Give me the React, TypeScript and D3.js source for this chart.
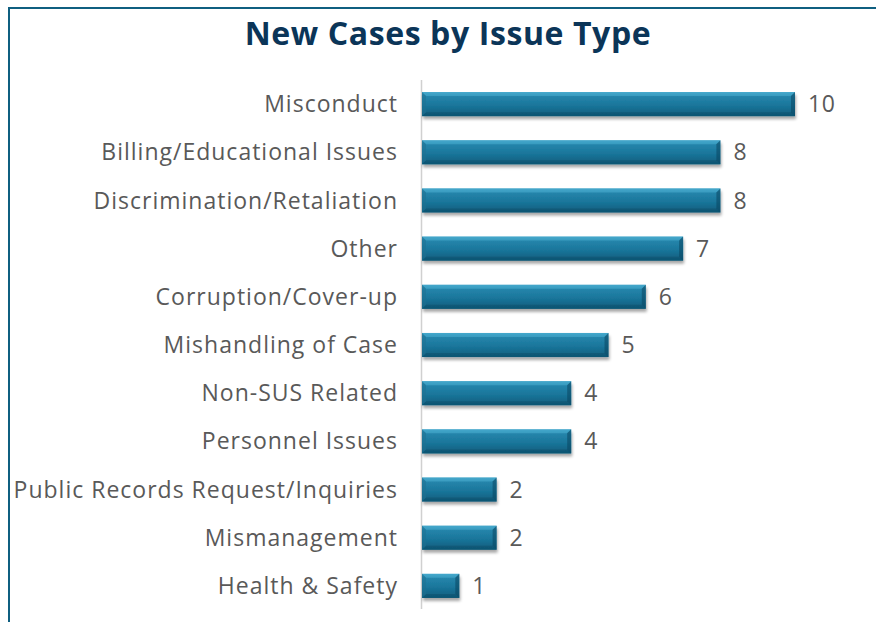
import React from "react";
import * as d3 from "d3";

const categories = [
  "Misconduct",
  "Billing/Educational Issues",
  "Discrimination/Retaliation",
  "Other",
  "Corruption/Cover-up",
  "Mishandling of Case",
  "Non-SUS Related",
  "Personnel Issues",
  "Public Records Request/Inquiries",
  "Mismanagement",
  "Health & Safety",
];
const values = [10, 8, 8, 7, 6, 5, 4, 4, 2, 2, 1];
const title = "New Cases by Issue Type";

const W = 876;
const H = 622;
const FONT = "'Open Sans', sans-serif";

export default function App() {
  const x = d3.scaleLinear().domain([0, 10]).range([422, 795]);
  const y = d3.scaleBand<string>().domain(categories).range([80, 610]).paddingInner(0.5).paddingOuter(0.25);
  const bh = y.bandwidth();
  const bev = 4;

  return (
    <svg width={W} height={H} style={{ position: "absolute", left: 0, top: 0, background: "#fff" }}>
      <defs>
        <linearGradient id="barGrad" x1="0" y1="0" x2="0" y2="1">
          <stop offset="0" stopColor="#3d9fc4" />
          <stop offset="0.15" stopColor="#2686ac" />
          <stop offset="0.55" stopColor="#1a769b" />
          <stop offset="1" stopColor="#0f5c7c" />
        </linearGradient>
        <filter id="shadow" x="-5%" y="-20%" width="115%" height="160%">
          <feGaussianBlur in="SourceAlpha" stdDeviation="1.6" />
          <feOffset dx="1" dy="2.5" result="b" />
          <feComponentTransfer>
            <feFuncA type="linear" slope="0.35" />
          </feComponentTransfer>
          <feMerge>
            <feMergeNode />
            <feMergeNode in="SourceGraphic" />
          </feMerge>
        </filter>
      </defs>
      {/* frame */}
      <line x1={9} y1={8} x2={W} y2={8} stroke="#0f5f80" strokeWidth={2} />
      <line x1={9} y1={7} x2={9} y2={H} stroke="#0f5f80" strokeWidth={2} />

      <text x={448} y={45} textAnchor="middle" fontFamily={FONT} fontWeight={700} fontSize={32} letterSpacing={0.6} fill="#0b3558">
        {title}
      </text>

      {/* axis line */}
      <line x1={421.5} y1={80} x2={421.5} y2={609} stroke="#d0d0d0" strokeWidth={1.5} />

      {categories.map((c, i) => {
        const v = values[i];
        const x0 = x(0);
        const x1 = x(v);
        const y0 = y(c)!;
        const y1 = y0 + bh;
        const cy = y0 + bh / 2;
        return (
          <g key={c}>
            <g filter="url(#shadow)">
              <rect x={x0} y={y0} width={x1 - x0} height={bh} fill="url(#barGrad)" />
            </g>
            {/* bevels */}
            <polygon points={`${x0},${y0} ${x1},${y0} ${x1 - bev},${y0 + bev} ${x0 + bev},${y0 + bev}`} fill="#4aaed2" opacity={0.55} />
            <polygon points={`${x0},${y1} ${x1},${y1} ${x1 - bev},${y1 - bev} ${x0 + bev},${y1 - bev}`} fill="#0a4d69" opacity={0.45} />
            <polygon points={`${x0},${y0} ${x0 + bev},${y0 + bev} ${x0 + bev},${y1 - bev} ${x0},${y1}`} fill="#1e6f90" opacity={0.5} />
            <polygon points={`${x1},${y0} ${x1 - bev},${y0 + bev} ${x1 - bev},${y1 - bev} ${x1},${y1}`} fill="#0a4560" opacity={0.55} />
            <text x={398} y={cy} dy="0.35em" textAnchor="end" fontFamily={FONT} fontSize={23} letterSpacing={1} fill="#595959">
              {c}
            </text>
            <text x={x1 + 13} y={cy} dy="0.35em" textAnchor="start" fontFamily={FONT} fontSize={23} letterSpacing={0.5} fill="#595959">
              {v}
            </text>
          </g>
        );
      })}
    </svg>
  );
}
